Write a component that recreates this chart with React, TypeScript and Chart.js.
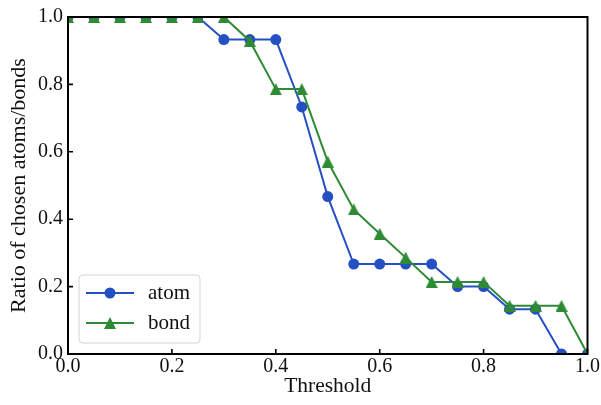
import React, { useEffect, useRef } from "react";
import { Chart, registerables } from "chart.js";

Chart.register(...registerables);

const thresholds = [0, 0.05, 0.1, 0.15, 0.2, 0.25, 0.3, 0.35, 0.4, 0.45, 0.5, 0.55, 0.6, 0.65, 0.7, 0.75, 0.8, 0.85, 0.9, 0.95, 1.0];
const atomValues = [1, 1, 1, 1, 1, 1, 0.933, 0.933, 0.933, 0.733, 0.467, 0.267, 0.267, 0.267, 0.267, 0.2, 0.2, 0.133, 0.133, 0, 0];
const bondValues = [1, 1, 1, 1, 1, 1, 1, 0.929, 0.786, 0.786, 0.571, 0.429, 0.357, 0.286, 0.214, 0.214, 0.214, 0.143, 0.143, 0.143, 0];
const seriesLabels = ["atom", "bond"];
const tickValues = [0, 0.2, 0.4, 0.6, 0.8, 1.0];
const xTitle = "Threshold";
const yTitle = "Ratio of chosen atoms/bonds";

const BLUE = "#2450c4";
const GREEN = "#2f8a34";
const FONT = "'Liberation Serif', 'DejaVu Serif', serif";
const TICK_SIZE = 20;
const TITLE_SIZE = 22;

function makeTriangle(color: string, size: number) {
  const c = document.createElement("canvas");
  c.width = size;
  c.height = size;
  const g = c.getContext("2d")!;
  g.fillStyle = color;
  g.beginPath();
  g.moveTo(size / 2, 0);
  g.lineTo(size, size);
  g.lineTo(0, size);
  g.closePath();
  g.fill();
  return c;
}

const framePlugin = {
  id: "frameTicks",
  afterDatasetsDraw(chart: any) {
    const { ctx, chartArea } = chart;
    const { left, right, top, bottom } = chartArea;
    const xs = chart.scales.x;
    const ys = chart.scales.y;
    ctx.save();
    ctx.strokeStyle = "#000";
    ctx.lineWidth = 1.6;
    ctx.beginPath();
    tickValues.forEach((v) => {
      const px = xs.getPixelForValue(v);
      ctx.moveTo(px, bottom);
      ctx.lineTo(px, bottom - 5);
      const py = ys.getPixelForValue(v);
      ctx.moveTo(left, py);
      ctx.lineTo(left + 5, py);
    });
    ctx.stroke();
    ctx.lineWidth = 2;
    ctx.strokeRect(left, top, right - left, bottom - top);
    ctx.restore();
  },
  afterDraw(chart: any) {
    const { ctx, chartArea } = chart;
    const bx = chartArea.left + 11;
    const by = chartArea.bottom - 79;
    const bw = 121;
    const bh = 68;
    ctx.save();
    ctx.fillStyle = "rgba(255,255,255,0.85)";
    ctx.strokeStyle = "#d4d4d4";
    ctx.lineWidth = 1;
    ctx.beginPath();
    (ctx as any).roundRect(bx, by, bw, bh, 4);
    ctx.fill();
    ctx.stroke();
    const order = [...chart.data.datasets].sort((a: any, b: any) => (a.legendIndex ?? 0) - (b.legendIndex ?? 0));
    order.forEach((ds: any, i: number) => {
      const cy = by + 18 + i * 30;
      ctx.strokeStyle = ds.borderColor;
      ctx.lineWidth = 2;
      ctx.beginPath();
      ctx.moveTo(bx + 7, cy);
      ctx.lineTo(bx + 55, cy);
      ctx.stroke();
      ctx.fillStyle = ds.borderColor;
      if (ds.pointStyle instanceof HTMLCanvasElement) {
        const img = ds.pointStyle;
        ctx.drawImage(img, bx + 31 - img.width / 2, cy - img.height / 2);
      } else {
        ctx.beginPath();
        ctx.arc(bx + 31, cy, 5.5, 0, Math.PI * 2);
        ctx.fill();
      }
      ctx.fillStyle = "#111";
      ctx.font = `21px ${FONT}`;
      ctx.textBaseline = "middle";
      ctx.textAlign = "left";
      ctx.fillText(ds.label, bx + 69, cy);
    });
    ctx.restore();
  },
};

export default function App() {
  const ref = useRef<HTMLCanvasElement>(null);
  useEffect(() => {
    if (!ref.current) return;
    const mk = (vals: number[]) => thresholds.map((x, i) => ({ x, y: vals[i] }));
    const tri = makeTriangle(GREEN, 12);
    const chart = new Chart(ref.current, {
      type: "line",
      data: {
        datasets: [
          {
            label: seriesLabels[0],
            legendIndex: 0,
            order: 2,
            data: mk(atomValues),
            borderColor: BLUE,
            backgroundColor: BLUE,
            pointBackgroundColor: BLUE,
            pointBorderColor: BLUE,
            pointStyle: "circle",
            pointRadius: 5.5,
            pointBorderWidth: 0,
            borderWidth: 2,
            clip: 0,
          },
          {
            label: seriesLabels[1],
            legendIndex: 1,
            order: 1,
            data: mk(bondValues),
            borderColor: GREEN,
            backgroundColor: GREEN,
            pointBackgroundColor: GREEN,
            pointBorderColor: GREEN,
            pointStyle: tri,
            pointRadius: 6,
            borderWidth: 2,
            clip: 0,
          },
        ],
      },
      options: {
        animation: false,
        responsive: false,
        devicePixelRatio: 1,
        layout: { padding: { top: 17, right: 13, left: 0, bottom: 0 } },
        plugins: { legend: { display: false }, tooltip: { enabled: false } },
        scales: {
          x: {
            type: "linear",
            min: 0,
            max: 1,
            afterBuildTicks: (s: any) => {
              s.ticks = tickValues.map((v) => ({ value: v }));
            },
            afterFit: (s: any) => {
              s.height = 51;
            },
            grid: { display: false, drawTicks: false },
            border: { display: false },
            ticks: {
              color: "#111",
              font: { family: FONT, size: TICK_SIZE },
              padding: 1,
              maxRotation: 0,
              callback: (v: any) => Number(v).toFixed(1),
            },
            title: {
              display: true,
              text: xTitle,
              color: "#111",
              font: { family: FONT, size: 21.5 },
              padding: { top: 0, bottom: 6 },
            },
          },
          y: {
            type: "linear",
            min: 0,
            max: 1,
            afterBuildTicks: (s: any) => {
              s.ticks = tickValues.map((v) => ({ value: v }));
            },
            afterFit: (s: any) => {
              s.width = 68;
            },
            grid: { display: false, drawTicks: false },
            border: { display: false },
            ticks: {
              color: "#111",
              font: { family: FONT, size: TICK_SIZE },
              padding: 5,
              callback: (v: any) => Number(v).toFixed(1),
            },
            title: {
              display: true,
              text: yTitle,
              color: "#111",
              font: { family: FONT, size: TITLE_SIZE },
              padding: { top: 6, bottom: 0 },
            },
          },
        },
      },
      plugins: [framePlugin],
    } as any);
    return () => chart.destroy();
  }, []);
  return (
    <div style={{ position: "fixed", left: 0, top: 0, width: 601, height: 405, background: "#fff" }}>
      <canvas ref={ref} width={601} height={405} style={{ display: "block" }} />
    </div>
  );
}
